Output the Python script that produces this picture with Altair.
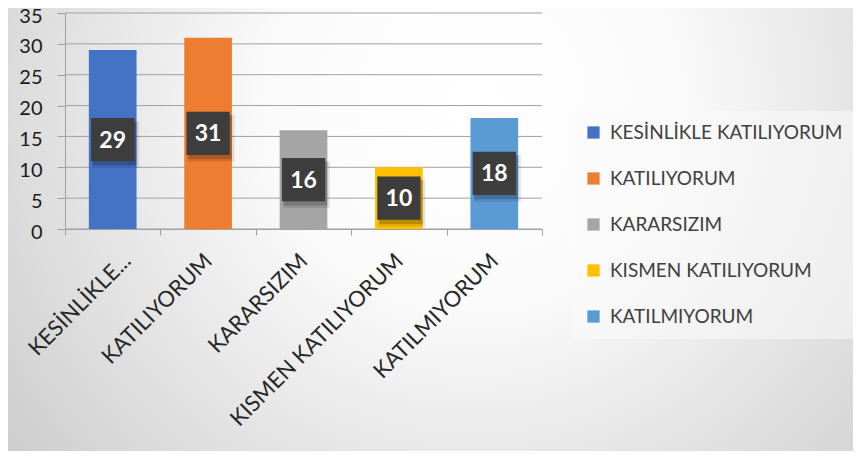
import altair as alt
import pandas as pd

categories = ["KESİNLİKLE KATILIYORUM", "KATILIYORUM", "KARARSIZIM",
              "KISMEN KATILIYORUM", "KATILMIYORUM"]
values = [29, 31, 16, 10, 18]
colors = ["#4472C4", "#ED7D31", "#A5A5A5", "#FFC000", "#5B9BD5"]
y_ticks = [0, 5, 10, 15, 20, 25, 30, 35]

W, H = 477, 216
PAD = {"left": 57, "top": 5, "right": 311, "bottom": 222}
FONT = "Lato"

df = pd.DataFrame({"cat": categories, "val": values})
grid_df = pd.DataFrame({"t": y_ticks})

x_enc = alt.X("cat:N", sort=categories, title=None,
              scale=alt.Scale(paddingInner=0, paddingOuter=0),
              axis=alt.Axis(labelAngle=-45, labelAlign="right", labelBaseline="middle",
                            labelPadding=22, tickBand="extent", zindex=2, grid=False,
                            labelFontSize=22,
                            labelOffset={"condition": {"test": "datum.index == 0", "value": 14},
                                         "value": 0},
                            labelExpr="datum.label == 'KESİNLİKLE KATILIYORUM' ? 'KESİNLİKLE...' : datum.label"))
y_enc = alt.Y("val:Q", title=None,
              scale=alt.Scale(domain=[0, 35], nice=False),
              axis=alt.Axis(values=y_ticks, zindex=2, grid=False, labelOffset=3,
                            labelFontSize=20))

bg = alt.Chart(pd.DataFrame({"a": [0]})).mark_rect(
    fill=alt.RadialGradient(
        gradient="radial",
        stops=[alt.GradientStop(offset=0, color="#ffffff"),
               alt.GradientStop(offset=0.3, color="#fbfbfb"),
               alt.GradientStop(offset=1, color="#c4c4c4")],
        x1=0.55, y1=0.35, r1=0.0, x2=0.55, y2=0.35, r2=0.78),
).encode(x=alt.value(-PAD["left"]), x2=alt.value(W + PAD["right"]),
         y=alt.value(-PAD["top"]), y2=alt.value(H + PAD["bottom"]))

grid = alt.Chart(grid_df).mark_rule(color="#a0a0a0", strokeWidth=1).encode(
    y=alt.Y("t:Q", title=None))

bars = alt.Chart(df).mark_bar(width=alt.RelativeBandSize(0.5)).encode(
    x=x_enc, y=y_enc,
    color=alt.Color("cat:N", sort=categories, title=None,
                    scale=alt.Scale(domain=categories, range=colors),
                    legend=alt.Legend(orient="none", legendX=507, legendY=98,
                                      symbolType="square", symbolSize=150,
                                      symbolStrokeWidth=0, labelFontSize=19,
                                      labelFont=FONT, labelColor="#404040",
                                      rowPadding=26, labelOffset=7, padding=12,
                                      fillColor="rgba(250,250,250,0.55)",
                                      labelLimit=400)))

base_lbl = alt.Chart(df).transform_calculate(mid="datum.val / 2").encode(
    x=alt.X("cat:N", sort=categories, title=None), y=alt.Y("mid:Q", title=None))

shadow1 = base_lbl.mark_square(size=2200, color="#000000", opacity=0.10,
                               xOffset=3, yOffset=5, filled=True)
shadow2 = base_lbl.mark_square(size=1900, color="#000000", opacity=0.18,
                               xOffset=2, yOffset=4, filled=True)
box = base_lbl.mark_square(size=1870, color="#3d3d3d", opacity=1, filled=True)
txt = base_lbl.mark_text(color="white", fontSize=23, fontWeight="bold",
                         font=FONT, baseline="middle", dy=1).encode(text="val:Q")

chart = alt.layer(bg, grid, bars, shadow1, shadow2, box, txt).properties(
    width=W, height=H, padding=PAD,
    autosize=alt.AutoSizeParams(type="none"),
    background="#ffffff",
).configure_view(stroke=None).configure_axis(
    grid=False, tickColor="#a0a0a0", domainColor="#a0a0a0",
    labelFont=FONT, labelLimit=400,
).configure_axisX(
    labelFontSize=22, labelColor="#262626", tickSize=6,
    labelAngle=-45, labelAlign="right", labelBaseline="middle", labelPadding=22,
).configure_axisY(
    labelFontSize=20, labelColor="#1a1a1a", tickSize=8, labelPadding=15, tickCount=8,
)

chart.save("out.html", embed_options={"renderer": "svg", "actions": False})
